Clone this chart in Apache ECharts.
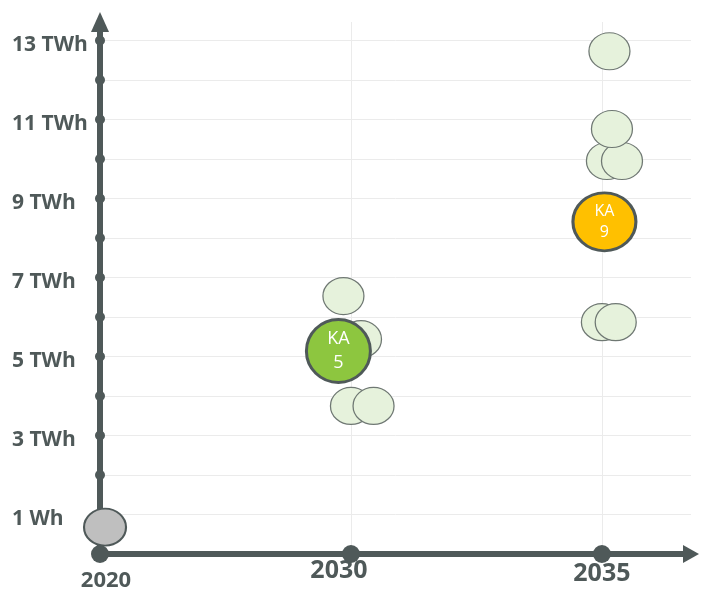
<!DOCTYPE html>
<html><head><meta charset="utf-8">
<script src="https://cdn.jsdelivr.net/npm/echarts@6/dist/echarts.min.js"></script>
<style>html,body{margin:0;padding:0;background:#fff}#c{width:702px;height:592px}</style>
</head><body><div id="c"></div>
<script>
const categories = ['2020', '2030', '2035'];
const yTickValues = [1, 3, 5, 7, 9, 11, 13];
const yTickLabels = ['1 Wh', '3 TWh', '5 TWh', '7 TWh', '9 TWh', '11 TWh', '13 TWh'];
const yAxisMarks = [1, 2, 3, 4, 5, 6, 7, 8, 9, 10, 11, 12, 13];
const xAxisMarks = [0, 1, 2];
// scenario bubbles: x = category index (+ small jitter), y = TWh
const scenarioX = [0.97, 1.04, 1.0, 1.09, 2.03, 2.02, 2.08, 2.04, 2.0, 2.055];
const scenarioY = [6.53, 5.44, 3.75, 3.75, 12.73, 9.95, 9.95, 10.76, 5.87, 5.87];
// KA bubbles
const kaNames = ['KA\n5', 'KA\n9'];
const kaX = [0.95, 2.01];
const kaY = [5.14, 8.41];
// 2020 base bubble
const baseX = [0.02];
const baseY = [0.68];

const dark = '#4f5959';
const chart = echarts.init(document.getElementById('c'), null, {renderer: 'canvas'});
chart.setOption({
  animation: false,
  backgroundColor: '#ffffff',
  grid: {left: 100, right: 11, top: 22, bottom: 38, containLabel: false},
  xAxis: {
    type: 'value', min: 0, max: 2.355, interval: 1,
    axisLine: {show: true, symbol: ['none', 'triangle'], symbolSize: [18, 16], lineStyle: {color: dark, width: 6}},
    axisTick: {show: false},
    splitLine: {show: true, showMinLine: false, showMaxLine: false, lineStyle: {color: '#ebebeb', width: 1}},
    axisLabel: {
      margin: 4,
      fontFamily: 'Open Sans', fontWeight: 'bold', color: dark,
      formatter: v => Number.isInteger(v) && categories[v] ? '{c' + v + '|' + categories[v] + '}' : '',
      rich: {
        c0: {fontFamily: 'Open Sans', fontWeight: 'bold', color: dark, fontSize: 22, padding: [12, 0, 0, 12]},
        c1: {fontFamily: 'Open Sans', fontWeight: 'bold', color: dark, fontSize: 25, padding: [0, 24, 0, 0]},
        c2: {fontFamily: 'Open Sans', fontWeight: 'bold', color: dark, fontSize: 25, padding: [3, 0, 0, 0]}
      }
    }
  },
  yAxis: {
    type: 'value', min: 0, max: 13.47, interval: 1,
    axisLine: {show: true, symbol: ['none', 'triangle'], symbolSize: [18, 20], lineStyle: {color: dark, width: 6}},
    axisTick: {show: false},
    splitLine: {show: true, showMinLine: false, showMaxLine: false, lineStyle: {color: '#ebebeb', width: 1}},
    axisLabel: {
      align: 'left', margin: 88,
      fontFamily: 'Open Sans', fontWeight: 'bold', fontSize: 21, color: dark,
      formatter: v => {
        const i = yTickValues.indexOf(v);
        return i >= 0 ? '{t|' + yTickLabels[i] + '}' : '';
      },
      rich: {
        t: {fontFamily: 'Open Sans', fontWeight: 'bold', fontSize: 21, color: dark, padding: [9, 0, 0, 0]}
      }
    }
  },
  series: [
    {
      type: 'scatter', clip: false, z: 2, silent: true,
      symbol: 'circle', symbolSize: 10,
      itemStyle: {color: dark, opacity: 1},
      data: yAxisMarks.map(v => [0, v])
    },
    {
      type: 'scatter', clip: false, z: 2, silent: true,
      symbol: 'circle', symbolSize: 18,
      itemStyle: {color: dark, opacity: 1},
      data: xAxisMarks.map(v => [v, 0])
    },
    {
      type: 'scatter', clip: false, z: 3, silent: true,
      symbol: 'circle', symbolSize: [42, 37],
      itemStyle: {color: '#bfbfbf', borderColor: dark, borderWidth: 2, opacity: 1},
      data: baseX.map((x, i) => [x, baseY[i]])
    },
    {
      type: 'scatter', clip: false, z: 3, silent: true,
      symbol: 'circle', symbolSize: [41, 37],
      itemStyle: {color: '#e6f2dc', borderColor: '#6f7873', borderWidth: 1.2, opacity: 1},
      data: scenarioX.map((x, i) => [x, scenarioY[i]])
    },
    {
      type: 'scatter', clip: false, z: 4, silent: true,
      symbol: 'circle',
      data: kaX.map((x, i) => ({
        name: kaNames[i],
        value: [x, kaY[i]],
        symbolSize: i === 0 ? [64, 63] : [63, 58],
        itemStyle: {color: i === 0 ? '#8dc63f' : '#ffc000', borderColor: dark, borderWidth: 3, opacity: 1},
        label: {fontSize: i === 0 ? 18 : 16, lineHeight: i === 0 ? 24 : 21}
      })),
      label: {
        show: true, position: 'inside', formatter: p => p.name,
        color: '#ffffff', fontFamily: 'Open Sans', align: 'center'
      }
    }
  ]
});
</script>
</body></html>
